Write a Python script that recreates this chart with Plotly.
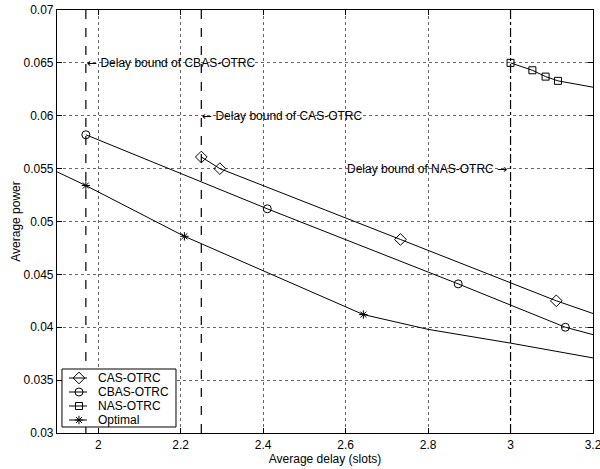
import plotly.graph_objects as go

# Average delay (slots) vs. average power for each scheme
cas_x = [2.25, 2.295, 2.733, 3.111, 3.2]
cas_y = [0.0561, 0.0550, 0.0483, 0.0425, 0.0413]
cas_marked = [0, 1, 2, 3]

cbas_x = [1.97, 2.410, 2.873, 3.133, 3.2]
cbas_y = [0.0582, 0.0512, 0.0441, 0.0400, 0.0393]
cbas_marked = [0, 1, 2, 3]

nas_x = [3.0, 3.053, 3.085, 3.115, 3.2]
nas_y = [0.0650, 0.0643, 0.0637, 0.0633, 0.0627]
nas_marked = [0, 1, 2, 3]

opt_x = [1.9, 1.97, 2.209, 2.643, 2.8, 3.0, 3.2]
opt_y = [0.0547, 0.0534, 0.0486, 0.0412, 0.0398, 0.0385, 0.0371]
opt_marked = [1, 2, 3]

# Delay bounds (vertical reference lines) and their label heights
bound_names = ["CBAS-OTRC", "CAS-OTRC", "NAS-OTRC"]
bound_x = [1.97, 2.25, 3.0]
bound_label_y = [0.065, 0.060, 0.055]
bound_dash = ["dash", "dash", "dashdot"]

x_ticks = [2.0, 2.2, 2.4, 2.6, 2.8, 3.0, 3.2]
x_tick_text = ["2", "2.2", "2.4", "2.6", "2.8", "3", "3.2"]
y_ticks = [0.03, 0.035, 0.04, 0.045, 0.05, 0.055, 0.06, 0.065, 0.07]
y_tick_text = ["0.03", "0.035", "0.04", "0.045", "0.05", "0.055", "0.06", "0.065", "0.07"]

FONT = "Liberation Sans, Arial, Helvetica, sans-serif"
ARROW_FONT = "DejaVu Sans"

fig = go.Figure()

for bx, dash in zip(bound_x, bound_dash):
    fig.add_trace(go.Scatter(
        x=[bx, bx], y=[0.03, 0.07], mode="lines",
        line=dict(color="black", width=1.2, dash=dash),
        showlegend=False, hoverinfo="skip"))

series = [
    ("CAS-OTRC", cas_x, cas_y, cas_marked, "diamond-open", 9),
    ("CBAS-OTRC", cbas_x, cbas_y, cbas_marked, "circle-open", 8),
    ("NAS-OTRC", nas_x, nas_y, nas_marked, "square-open", 7),
    ("Optimal", opt_x, opt_y, opt_marked, "asterisk-open", 7),
]

for name, xs, ys, marked, symbol, size in series:
    fig.add_trace(go.Scatter(
        x=xs, y=ys, mode="lines",
        line=dict(color="black", width=1),
        showlegend=False, hoverinfo="skip"))
    fig.add_trace(go.Scatter(
        x=[xs[i] for i in marked], y=[ys[i] for i in marked],
        mode="markers", name=name,
        marker=dict(symbol=symbol, size=size, color="black",
                    line=dict(color="black", width=1)),
        showlegend=False))

def arrow(ch):
    return '<span style="font-family:%s">%s</span>' % (ARROW_FONT, ch)

for name, bx, by in zip(bound_names, bound_x, bound_label_y):
    if name == "NAS-OTRC":
        text, anchor, shift = "Delay bound of " + name + " " + arrow("\u2192"), "right", -2
    else:
        text, anchor, shift = arrow("\u2190") + " Delay bound of " + name, "left", -1
    fig.add_annotation(x=bx, y=by, text=text, showarrow=False,
                       xanchor=anchor, yanchor="middle", xshift=shift,
                       font=dict(family=FONT, size=12, color="black"))

# Compact legend box drawn on an overlay axis spanning the plot area (0..1)
leg_box_x = [0.0093, 0.222]
leg_box_y = [0.0142, 0.1513]
leg_rows_y = [0.1300, 0.0969, 0.0638, 0.0307]
leg_line_x = [0.0224, 0.0560]
leg_mark_x = 0.0410
leg_text_x = 0.0730

fig.add_trace(go.Scatter(
    x=[leg_box_x[0], leg_box_x[1], leg_box_x[1], leg_box_x[0], leg_box_x[0]],
    y=[leg_box_y[0], leg_box_y[0], leg_box_y[1], leg_box_y[1], leg_box_y[0]],
    mode="lines", fill="toself", fillcolor="white",
    line=dict(color="black", width=1),
    xaxis="x2", yaxis="y2", showlegend=False, hoverinfo="skip"))

for (name, xs, ys, marked, symbol, size), ry in zip(series, leg_rows_y):
    fig.add_trace(go.Scatter(
        x=leg_line_x, y=[ry, ry], mode="lines",
        line=dict(color="black", width=1),
        xaxis="x2", yaxis="y2", showlegend=False, hoverinfo="skip"))
    fig.add_trace(go.Scatter(
        x=[leg_mark_x], y=[ry], mode="markers",
        marker=dict(symbol=symbol, size=size, color="black",
                    line=dict(color="black", width=1)),
        xaxis="x2", yaxis="y2", showlegend=False, hoverinfo="skip"))
    fig.add_annotation(x=leg_text_x, y=ry, xref="x2", yref="y2", text=name,
                       showarrow=False, xanchor="left", yanchor="middle",
                       font=dict(family=FONT, size=12, color="black"))

axis_common = dict(
    showline=True, linecolor="black", linewidth=1.2, mirror="allticks",
    ticks="inside", ticklen=5, tickcolor="black",
    showgrid=True, gridcolor="#666666", griddash="dot", gridwidth=1,
    zeroline=False, ticklabeloverflow="allow", automargin=False,
    tickfont=dict(family=FONT, size=12, color="black"),
)

fig.update_xaxes(range=[1.9, 3.2], tickvals=x_ticks, ticktext=x_tick_text,
                 title=dict(text="Average delay (slots)", standoff=4,
                            font=dict(family=FONT, size=12, color="black")),
                 **axis_common)
fig.update_yaxes(range=[0.03, 0.07], tickvals=y_ticks, ticktext=y_tick_text,
                 title=dict(text="Average power", standoff=0,
                            font=dict(family=FONT, size=12, color="black")),
                 **axis_common)

fig.update_layout(
    width=600, height=469,
    margin=dict(l=57, r=7, t=10, b=36, autoexpand=False),
    paper_bgcolor="white", plot_bgcolor="white",
    font=dict(family=FONT, size=12, color="black"),
    showlegend=False,
    xaxis2=dict(overlaying="x", range=[0, 1], visible=False,
                fixedrange=True, automargin=False),
    yaxis2=dict(overlaying="y", range=[0, 1], visible=False,
                fixedrange=True, automargin=False),
)

fig.write_html("out.html")
